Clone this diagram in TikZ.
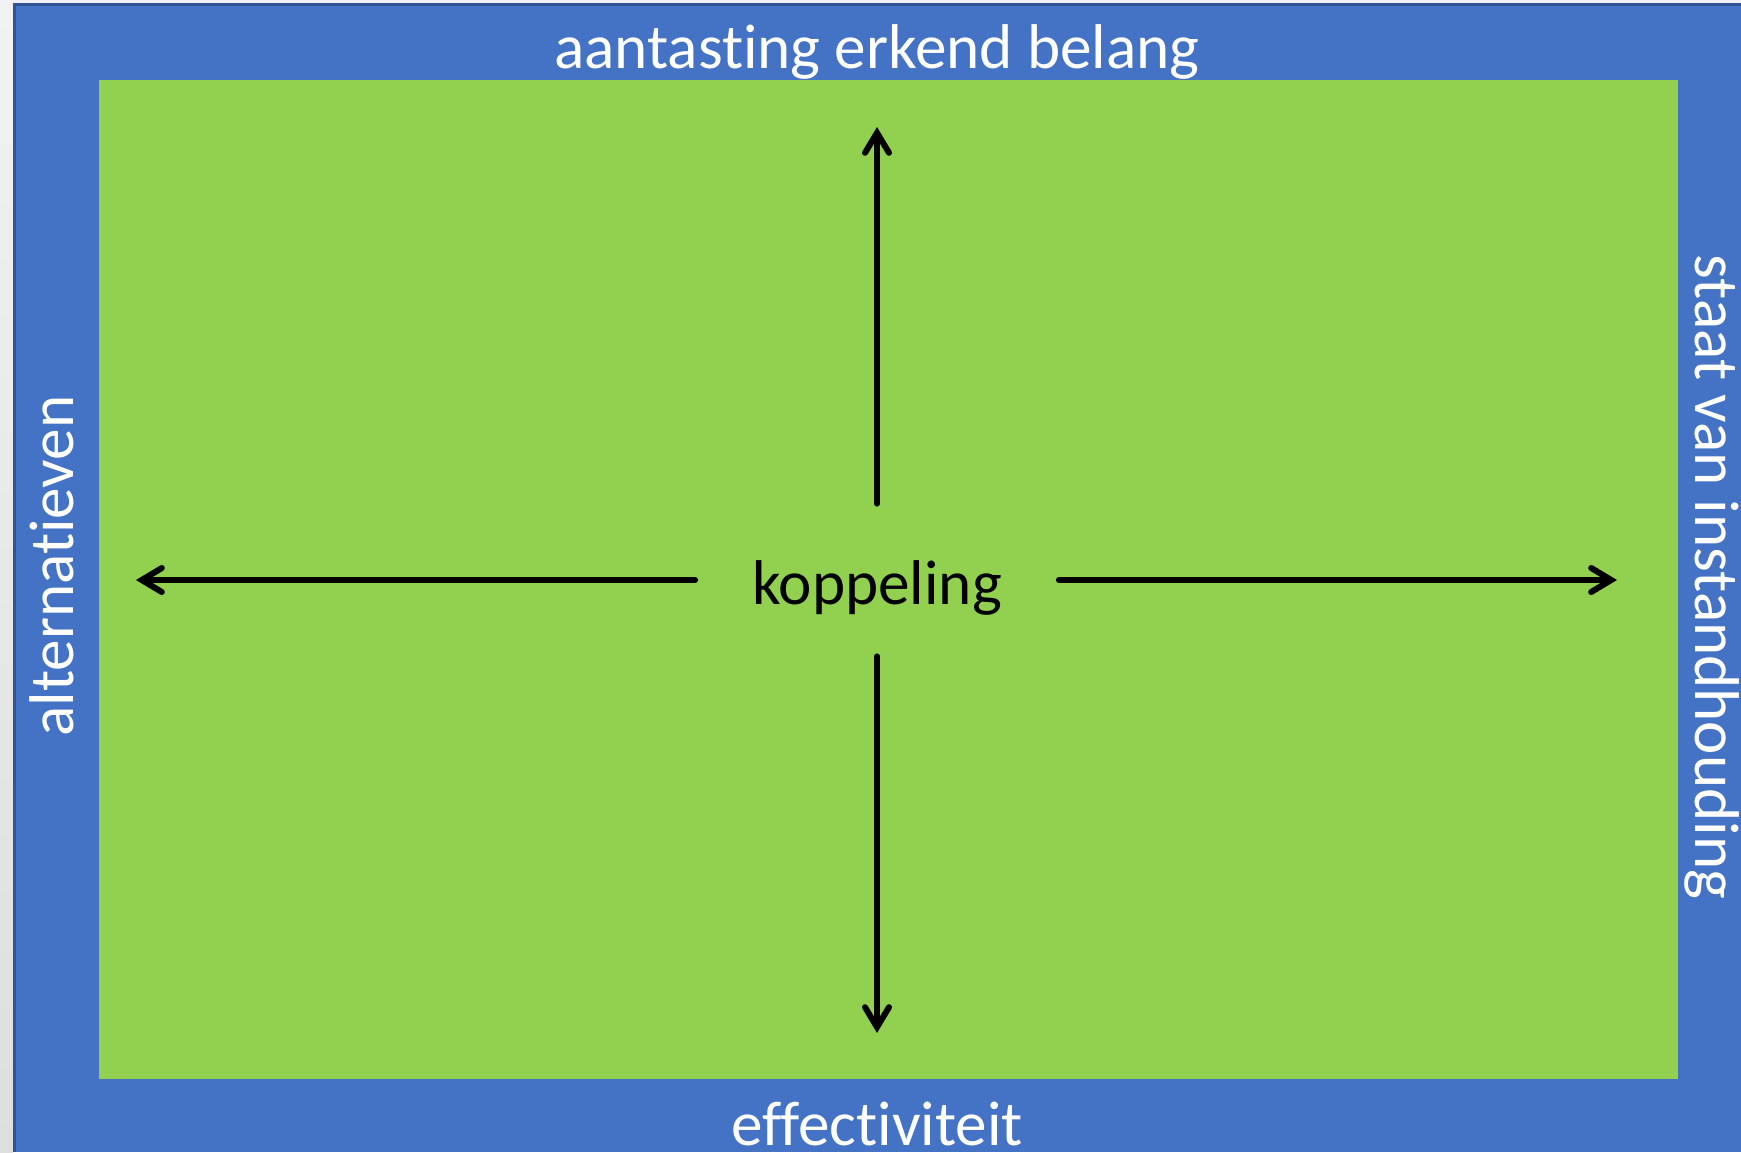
\documentclass[tikz,border=0pt]{standalone}
\usepackage{fontspec}
\setmainfont{Carlito}[Ligatures={NoCommon}]
\usetikzlibrary{arrows.meta}
\definecolor{frameblue}{HTML}{4472C4}
\definecolor{darkblue}{HTML}{2F5597}
\definecolor{fieldgreen}{HTML}{92D050}
\definecolor{stripgray}{HTML}{DEDEDE}
\definecolor{stripgraylight}{HTML}{F2F2F2}
\tikzset{
  lbl/.style={inner sep=0pt, font=\fontsize{31.6}{38}\selectfont},
  wlbl/.style={lbl, text=white},
  conn/.style={line width=3pt, -{Straight Barb[length=10pt,width=12pt,line cap=round]}, line cap=round}
}
\begin{document}
\begin{tikzpicture}[x=0.5pt,y=-0.5pt]
\useasboundingbox (0,0) rectangle (1741,1152);
% background strips
\shade[top color=stripgraylight, bottom color=stripgray] (0,0) rectangle (13,1152);
\fill[stripgraylight] (13,0) rectangle (1741,3);
% blue frame
\fill[frameblue] (13,3) rectangle (1741,1152);
\fill[darkblue] (13,3) rectangle (1741,6);
\fill[darkblue] (13,3) rectangle (16,1152);
% green field
\fill[fieldgreen] (99,80) rectangle (1678,1079);
% labels on frame
\node[wlbl] (top) at (877,52) {aantasting erkend belang};
\node[wlbl] (bottom) at (877,1124) {effectiviteit};
\node[wlbl, rotate=90] (left) at (52,566) {alternatieven};
\node[wlbl, rotate=-90] (right) at (1712,577) {staat van instandhouding};
% centre
\node[lbl, minimum width=181.5pt, minimum height=76pt] (k) at (877,580) {\raisebox{-4pt}[\height][\depth]{koppeling}};
\coordinate (tN) at (877,127);
\coordinate (tS) at (877,1033);
\coordinate (tW) at (136,580);
\coordinate (tE) at (1617,580);
\draw[conn] (k.north) -- (tN);
\draw[conn] (k.south) -- (tS);
\draw[conn] (k.west) -- (tW);
\draw[conn] (k.east) -- (tE);
\end{tikzpicture}
\end{document}
